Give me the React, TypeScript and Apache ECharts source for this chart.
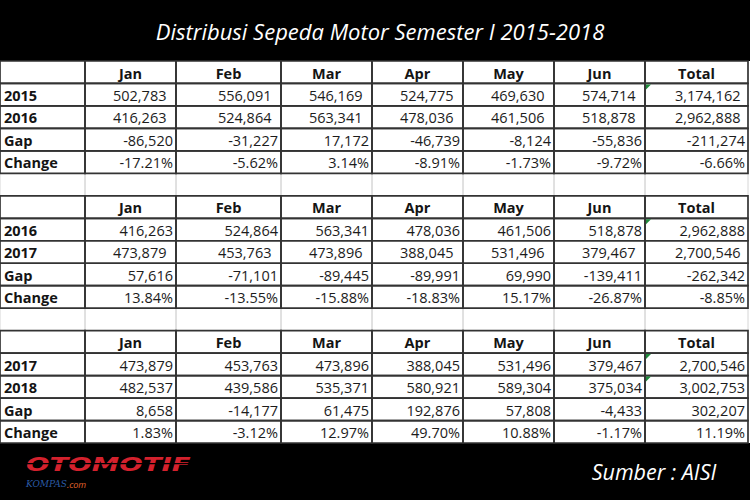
import React, { useEffect, useRef } from "react";
import * as echarts from "echarts";

// ---------- data ----------
const columns = ["Jan", "Feb", "Mar", "Apr", "May", "Jun", "Total"];
const rowLabels = ["Gap", "Change"];
const titleText = "Distribusi Sepeda Motor Semester I 2015-2018";
const sourceText = "Sumber : AISI";

const years = ["2015", "2016", "2017", "2018"];
const sales2015 = [502783, 556091, 546169, 524775, 469630, 574714, 3174162];
const sales2016 = [416263, 524864, 563341, 478036, 461506, 518878, 2962888];
const sales2017 = [473879, 453763, 473896, 388045, 531496, 379467, 2700546];
const sales2018 = [482537, 439586, 535371, 580921, 589304, 375034, 3002753];

const gap1516 = [-86520, -31227, 17172, -46739, -8124, -55836, -211274];
const change1516 = [-17.21, -5.62, 3.14, -8.91, -1.73, -9.72, -6.66];
const gap1617 = [57616, -71101, -89445, -89991, 69990, -139411, -262342];
const change1617 = [13.84, -13.55, -15.88, -18.83, 15.17, -26.87, -8.85];
const gap1718 = [8658, -14177, 61475, 192876, 57808, -4433, 302207];
const change1718 = [1.83, -3.12, 12.97, 49.7, 10.88, -1.17, 11.19];

// ---------- layout (not data) ----------
const W = 750;
const H = 500;
const TABLE_TOP = 61;
const TABLE_BOTTOM = 443;
const colEdges = [0, 85, 176, 281, 372, 463, 554, 645, 748];
const ROWS = 17;
const FONT = "'Open Sans', 'Noto Sans', sans-serif";
const CELL_FONT_SIZE = 14.5;
const widePadRows: Record<string, boolean> = { "0-1": true, "0-2": true, "1-2": true };
const flagRows: Record<string, boolean> = { "0-1": true, "1-1": true, "2-1": true, "2-2": true };

type Cell = {
  col: number;
  row: number;
  text: string;
  kind: "head" | "label" | "num" | "blank" | "corner";
  pad: number;
  flag: boolean;
};

const fmtNum = (v: number) => v.toLocaleString("en-US");
const fmtPct = (v: number) => v.toFixed(2) + "%";

const blocks = [
  { a: years[0], b: years[1], va: sales2015, vb: sales2016, gap: gap1516, change: change1516 },
  { a: years[1], b: years[2], va: sales2016, vb: sales2017, gap: gap1617, change: change1617 },
  { a: years[2], b: years[3], va: sales2017, vb: sales2018, gap: gap1718, change: change1718 },
];

function buildCells(): Cell[] {
  const blank: Cell[] = [];
  const table: Cell[] = [];
  blocks.forEach((blk, bi) => {
    const base = bi * 6;
    table.push({ col: 0, row: base, text: "", kind: "corner", pad: 0, flag: false });
    columns.forEach((c, ci) =>
      table.push({ col: ci + 1, row: base, text: c, kind: "head", pad: 0, flag: false })
    );
    const rows: [string, string[]][] = [
      [blk.a, blk.va.map(fmtNum)],
      [blk.b, blk.vb.map(fmtNum)],
      [rowLabels[0], blk.gap.map(fmtNum)],
      [rowLabels[1], blk.change.map(fmtPct)],
    ];
    rows.forEach(([label, vals], ri) => {
      const r = base + 1 + ri;
      const key = `${bi}-${ri + 1}`;
      table.push({ col: 0, row: r, text: label, kind: "label", pad: 0, flag: false });
      vals.forEach((v, ci) => {
        const isTotal = ci === vals.length - 1;
        const wide = widePadRows[key];
        table.push({
          col: ci + 1,
          row: r,
          text: v,
          kind: "num",
          pad: wide ? (isTotal ? 7.5 : 9.5) : 3,
          flag: isTotal && !!flagRows[key],
        });
      });
    });
    if (bi < blocks.length - 1) {
      for (let ci = 0; ci < colEdges.length - 1; ci++) {
        blank.push({ col: ci, row: base + 5, text: "", kind: "blank", pad: 0, flag: false });
      }
    }
  });
  return [...blank, ...table];
}

const cells = buildCells();

export default function App() {
  const ref = useRef<HTMLDivElement>(null);

  useEffect(() => {
    if (!ref.current) return;
    const chart = echarts.init(ref.current, undefined, { renderer: "svg" });

    const renderItem = (params: any, api: any) => {
      const c = cells[params.dataIndex];
      const p0 = api.coord([colEdges[c.col], c.row]);
      const p1 = api.coord([colEdges[c.col + 1], c.row + 1]);
      const x = p0[0];
      const y = p0[1];
      const w = p1[0] - p0[0];
      const h = p1[1] - p0[1];
      const children: any[] = [];
      if (c.kind === "blank") {
        children.push({
          type: "line",
          shape: { x1: x, y1: y, x2: x, y2: y + h },
          style: { stroke: "#d6d6d6", lineWidth: 1 },
        });
        children.push({
          type: "line",
          shape: { x1: x + w, y1: y, x2: x + w, y2: y + h },
          style: { stroke: "#d6d6d6", lineWidth: 1 },
        });
        return { type: "group", children };
      }
      children.push({
        type: "rect",
        shape: { x, y, width: w, height: h },
        style: { fill: null, stroke: "#333333", lineWidth: 1.7 },
        z2: 10,
      });
      const cy = y + h / 2 + 0.8;
      const base = {
        y: cy,
        textVerticalAlign: "middle",
        fill: "#141414",
        fontFamily: FONT,
        fontSize: CELL_FONT_SIZE,
      };
      if (c.kind === "head") {
        children.push({
          type: "text",
          style: { ...base, text: c.text, x: x + w / 2, textAlign: "center", fontWeight: "bold" },
          z2: 20,
        });
      } else if (c.kind === "label") {
        children.push({
          type: "text",
          style: { ...base, text: c.text, x: x + 4, textAlign: "left", fontWeight: "bold" },
          z2: 20,
        });
      } else if (c.kind === "num") {
        children.push({
          type: "text",
          style: { ...base, text: c.text, x: x + w - c.pad, textAlign: "right", fill: "#1c1c1c" },
          z2: 20,
        });
        if (c.flag) {
          children.push({
            type: "polygon",
            shape: { points: [[x + 1, y + 1], [x + 6, y + 1], [x + 1, y + 6]] },
            style: { fill: "#1f8a3c" },
            z2: 30,
          });
        }
      }
      return { type: "group", children };
    };

    const option: any = {
      animation: false,
      backgroundColor: "#ffffff",
      grid: {
        left: 0,
        right: W - colEdges[colEdges.length - 1],
        top: TABLE_TOP,
        bottom: H - TABLE_BOTTOM,
        containLabel: false,
        show: false,
      },
      xAxis: { type: "value", min: 0, max: colEdges[colEdges.length - 1], show: false },
      yAxis: { type: "value", min: 0, max: ROWS, inverse: true, show: false },
      series: [
        {
          type: "custom",
          coordinateSystem: "cartesian2d",
          renderItem,
          clip: false,
          silent: true,
          data: cells.map((c) => [(colEdges[c.col] + colEdges[c.col + 1]) / 2, c.row + 0.5]),
        },
      ],
      graphic: [
        { type: "rect", shape: { x: 0, y: 0, width: W, height: TABLE_TOP }, style: { fill: "#000" }, z: -1 },
        {
          type: "rect",
          shape: { x: 0, y: TABLE_BOTTOM, width: W, height: H - TABLE_BOTTOM },
          style: { fill: "#000" },
          z: -1,
        },
        {
          type: "text",
          x: 380,
          y: 31,
          style: {
            text: titleText,
            textAlign: "center",
            textVerticalAlign: "middle",
            fill: "#ffffff",
            fontFamily: FONT,
            fontSize: 22,
            fontStyle: "italic",
          },
        },
        {
          type: "text",
          x: 654,
          y: 471,
          style: {
            text: sourceText,
            textAlign: "center",
            textVerticalAlign: "middle",
            fill: "#ffffff",
            fontFamily: FONT,
            fontSize: 21.5,
            fontStyle: "italic",
          },
        },
        {
          type: "text",
          x: 26,
          y: 464,
          scaleX: 1.38,
          style: {
            text: "OTOMOTIF",
            x: 0,
            y: 0,
            textAlign: "left",
            textVerticalAlign: "middle",
            fill: "#d4212d",
            fontFamily: "'DejaVu Sans', sans-serif",
            fontSize: 20,
            fontWeight: "bold",
            fontStyle: "italic",
          },
        },
        {
          type: "rect",
          shape: { x: 24, y: 463, width: 168, height: 1.3 },
          style: { fill: "#000" },
          z: 5,
        },
        {
          type: "text",
          x: 26,
          y: 484,
          style: {
            text: "{k|KOMPAS}{c|.com}",
            textVerticalAlign: "middle",
            rich: {
              k: { fontFamily: "'DejaVu Serif', serif", fontStyle: "italic", fontSize: 9, fill: "#2b5ba6", color: "#2b5ba6" },
              c: { fontFamily: FONT, fontStyle: "italic", fontSize: 9, fill: "#e0642c", color: "#e0642c" },
            },
          },
        },
      ],
    };

    chart.setOption(option);
    return () => chart.dispose();
  }, []);

  return <div ref={ref} style={{ position: "fixed", left: 0, top: 0, width: W, height: H }} />;
}
